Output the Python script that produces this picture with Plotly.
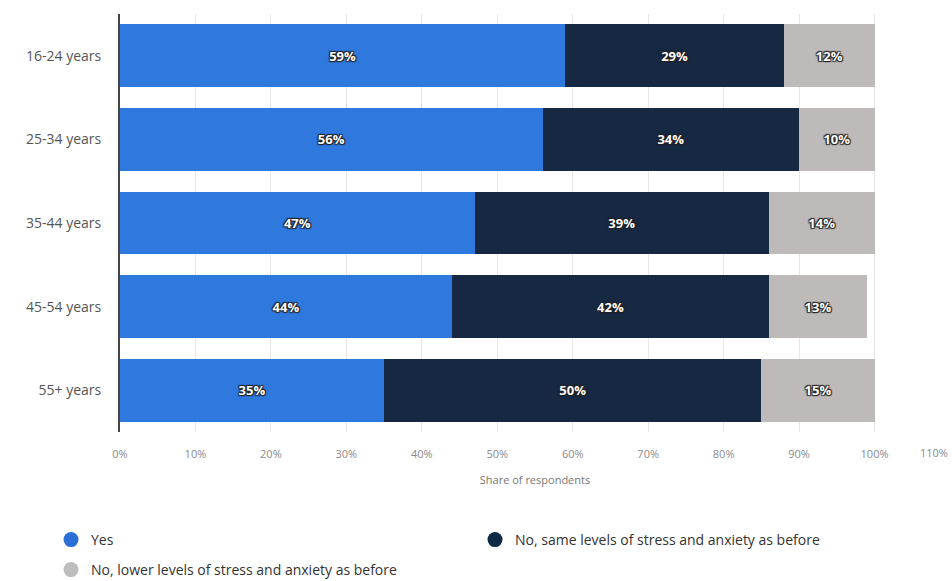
import plotly.graph_objects as go

categories = ["16-24 years", "25-34 years", "35-44 years", "45-54 years", "55+ years"]
yes_vals = [59, 56, 47, 44, 35]
same_vals = [29, 34, 39, 42, 50]
lower_vals = [12, 10, 14, 13, 15]
series_names = ["Yes", "No, same levels of stress and anxiety as before",
                "No, lower levels of stress and anxiety as before"]
series_colors = ["#2f78dd", "#172842", "#bfbaba"]
legend_colors = ["#2b6fd6", "#0f2a45", "#bdbdbd"]
legend_ids = ["legend", "legend2", "legend3"]
x_ticks = [0, 10, 20, 30, 40, 50, 60, 70, 80, 90, 100]
x_ticktext = [f"{v}%" for v in x_ticks]

fig = go.Figure()
for name, vals, col in zip(series_names, [yes_vals, same_vals, lower_vals], series_colors):
    fig.add_trace(go.Bar(
        y=categories, x=vals, orientation="h", name=name,
        marker=dict(color=col, line=dict(width=0)),
        text=[f"{v}%" for v in vals], textposition="inside",
        insidetextanchor="middle", constraintext="none",
        textfont=dict(family="Open Sans", size=13, color="white", weight="bold",
                      shadow="1px 1px 1px #222, -1px -1px 1px #222, 1px -1px 1px #222, -1px 1px 1px #222"),
        showlegend=False, hoverinfo="skip",
    ))
for name, col, lg in zip(series_names, legend_colors, legend_ids):
    fig.add_trace(go.Scatter(
        x=[None], y=[None], mode="markers", name=name, legend=lg,
        marker=dict(color=col, size=15, symbol="circle"),
    ))

W, H = 952, 581
legend_common = dict(orientation="h", xanchor="left", yanchor="middle",
                     xref="container", yref="container",
                     font=dict(size=14, color="#333"), itemsizing="trace",
                     traceorder="normal", bgcolor="rgba(0,0,0,0)")
fig.update_layout(
    barmode="stack", bargap=0.25,
    width=W, height=H,
    margin=dict(l=120, r=2, t=14, b=149, autoexpand=False),
    paper_bgcolor="white", plot_bgcolor="white",
    font=dict(family="Open Sans", color="#555"),
    xaxis=dict(range=[0, 110], tickvals=x_ticks, ticktext=x_ticktext,
               showgrid=True, gridcolor="#e8e8e8", gridwidth=1, zeroline=False, automargin=False,
               tickfont=dict(size=11, color="#8a8a8a"), ticks="", ticklabelstandoff=14,
               title=dict(text="Share of respondents", font=dict(size=11, color="#777"), standoff=16)),
    yaxis=dict(categoryorder="array", categoryarray=categories, autorange="reversed",
               showline=True, linecolor="#444", linewidth=2, showgrid=False, automargin=False,
               tickfont=dict(size=14, color="#555"), ticks="", ticklabelstandoff=14),
    legend=dict(legend_common, x=51 / W, y=1 - 540 / H),
    legend2=dict(legend_common, x=475 / W, y=1 - 540 / H),
    legend3=dict(legend_common, x=51 / W, y=1 - 570 / H),
)
fig.add_annotation(text="110%", x=110, xref="x", xanchor="right", y=0, yref="paper",
                   yshift=-20, yanchor="middle", showarrow=False,
                   font=dict(size=11, color="#8a8a8a", family="Open Sans"))
fig.write_html("out.html", config={"displayModeBar": False},
               post_script="document.body.style.margin='0';")
